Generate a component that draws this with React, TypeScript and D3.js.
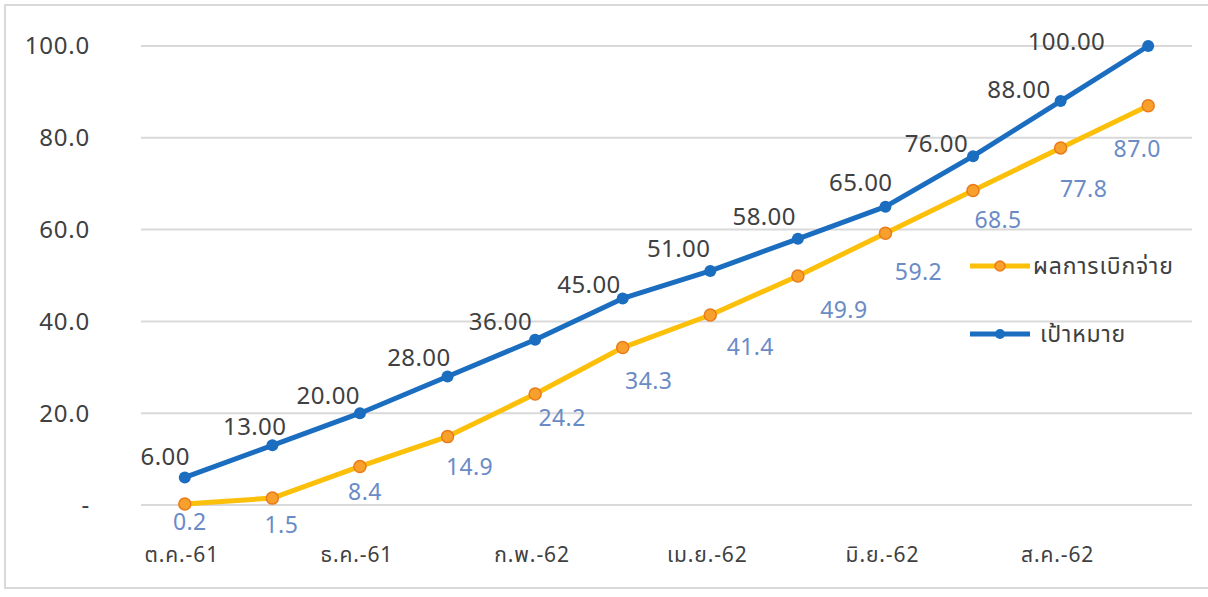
import React from 'react';
import * as d3 from 'd3';

const months = [
  'ต.ค.-61', 'พ.ย.-61', 'ธ.ค.-61', 'ม.ค.-62', 'ก.พ.-62', 'มี.ค.-62',
  'เม.ย.-62', 'พ.ค.-62', 'มิ.ย.-62', 'ก.ค.-62', 'ส.ค.-62', 'ก.ย.-62',
];
const shownMonths = ['ต.ค.-61', 'ธ.ค.-61', 'ก.พ.-62', 'เม.ย.-62', 'มิ.ย.-62', 'ส.ค.-62'];
const targetValues = [6, 13, 20, 28, 36, 45, 51, 58, 65, 76, 88, 100];
const disbursedValues = [0.2, 1.5, 8.4, 14.9, 24.2, 34.3, 41.4, 49.9, 59.2, 68.5, 77.8, 87.0];
const yTicks = [0, 20, 40, 60, 80, 100];
const disbursedName = 'ผลการเบิกจ่าย';
const targetName = 'เป้าหมาย';

// label nudges (dx, dy) from each marker, as placed in the original chart
const targetNudge = [
  [5, -21], [14, -19], [0, -18], [3, -19], [-3, -18], [-2, -14],
  [0, -22], [-2, -22], [7, -24], [-5, -13], [-10, -11], [-43, -4],
];
const disbursedNudge = [
  [5, 18], [9, 27], [5, 26], [22, 30], [27, 24], [26, 33],
  [40, 32], [46, 34], [33, 39], [25, 29], [23, 41], [-11, 43],
];

const W = 1208;
const H = 597;
const FONT = '"Noto Sans", "Noto Sans Thai", Tahoma, sans-serif';
const BLUE = '#1a6dbf';
const GOLD = '#fcbf0a';
const MARKER = '#f7a12c';
const MARKER_EDGE = '#ea7a1a';
const LABEL_BLUE = '#6a8bc6';
const TEXT = '#404040';

const App: React.FC = () => {
  const x = d3.scaleBand<string>().domain(months).range([141, 1192]);
  const cx = (m: string) => (x(m) ?? 0) + x.bandwidth() / 2;
  const y = d3.scaleLinear().domain([0, 100]).range([505, 46]);

  const line = d3
    .line<number>()
    .x((_, i) => cx(months[i]))
    .y((d) => y(d));

  return (
    <svg width={W} height={H} style={{ position: 'absolute', left: 0, top: 0, fontFamily: FONT }}>
      <rect x={0} y={0} width={W} height={H} fill="#fff" />
      <rect x={5} y={5} width={W + 10} height={583} fill="#fff" stroke="#d9d9d9" strokeWidth={2} />

      {/* gridlines + y labels */}
      {yTicks.map((t) => (
        <g key={t}>
          <line x1={141} x2={1192} y1={y(t)} y2={y(t)} stroke="#d9d9d9" strokeWidth={2} />
          <text x={90} y={y(t)} dy="0.35em" textAnchor="end" fontSize={24} letterSpacing={0.8} fill={TEXT}>
            {t === 0 ? '-' : t.toFixed(1)}
          </text>
        </g>
      ))}

      {/* x labels */}
      {shownMonths.map((m) => (
        <text key={m} x={cx(m) - 3} y={562} textAnchor="middle" fontSize={21} letterSpacing={0.9} fill={TEXT}>
          {m}
        </text>
      ))}

      {/* disbursed series */}
      <path d={line(disbursedValues) ?? ''} fill="none" stroke={GOLD} strokeWidth={5} strokeLinejoin="round" />
      {disbursedValues.map((v, i) => (
        <circle key={i} cx={cx(months[i])} cy={y(v)} r={6} fill={MARKER} stroke={MARKER_EDGE} strokeWidth={1.5} />
      ))}

      {/* target series */}
      <path d={line(targetValues) ?? ''} fill="none" stroke={BLUE} strokeWidth={5} strokeLinejoin="round" />
      {targetValues.map((v, i) => (
        <circle key={i} cx={cx(months[i])} cy={y(v)} r={6} fill={BLUE} />
      ))}

      {/* target labels */}
      {targetValues.map((v, i) => (
        <text
          key={i}
          x={cx(months[i]) + targetNudge[i][0]}
          y={y(v) + targetNudge[i][1]}
          dy="0.35em"
          textAnchor="end"
          fontSize={24}
          letterSpacing={0.4}
          fill={TEXT}
        >
          {v.toFixed(2)}
        </text>
      ))}

      {/* disbursed labels */}
      {disbursedValues.map((v, i) => (
        <text
          key={i}
          x={cx(months[i]) + disbursedNudge[i][0]}
          y={y(v) + disbursedNudge[i][1]}
          dy="0.35em"
          textAnchor="middle"
          fontSize={23}
          letterSpacing={0.4}
          fill={LABEL_BLUE}
        >
          {v.toFixed(1)}
        </text>
      ))}

      {/* legend */}
      <g>
        <line x1={970} x2={1030} y1={266} y2={266} stroke={GOLD} strokeWidth={5} />
        <circle cx={1000} cy={266} r={5} fill={MARKER} stroke={MARKER_EDGE} strokeWidth={1.5} />
        <text x={1033} y={266} dy="0.35em" fontSize={23} letterSpacing={0.8} fill={TEXT}>{disbursedName}</text>
        <line x1={970} x2={1030} y1={334} y2={334} stroke={BLUE} strokeWidth={5} />
        <circle cx={1000} cy={334} r={5} fill={BLUE} />
        <text x={1040} y={334} dy="0.35em" fontSize={23} letterSpacing={0.8} fill={TEXT}>{targetName}</text>
      </g>
    </svg>
  );
};

export default App;
